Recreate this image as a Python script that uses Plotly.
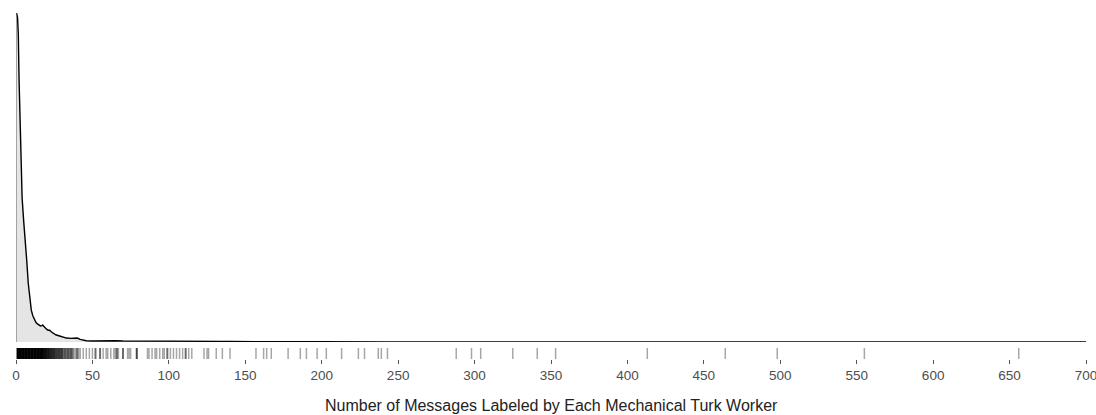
import plotly.graph_objects as go

# Smoothed density of messages labeled per worker (peak scaled to 1)
dens_x = [0, 0.5, 1, 1.5, 2, 2.5, 3, 3.5, 4, 5, 6, 7, 8, 9, 10, 11, 12, 13, 14, 15,
          16, 17, 17.5, 18, 19, 20, 21, 22, 23, 24, 26, 28, 30, 33, 36, 38, 40, 42, 44,
          46, 50, 55, 60, 65, 70, 75, 80, 85, 90, 95, 100, 105, 110, 115, 120, 125, 130,
          135, 140, 150, 160, 180, 200, 240, 300, 360, 450, 560, 660, 700]
dens_y = [1.0, 1.0, 0.99, 0.94, 0.80, 0.69, 0.60, 0.51, 0.44, 0.37, 0.32, 0.25, 0.18,
          0.13, 0.097, 0.08, 0.068, 0.06, 0.055, 0.051, 0.049, 0.05, 0.052, 0.049, 0.043,
          0.039, 0.036, 0.036, 0.031, 0.027, 0.022, 0.019, 0.016, 0.012, 0.011, 0.012,
          0.012, 0.008, 0.005, 0.004, 0.003, 0.004, 0.003, 0.004, 0.003, 0.003, 0.002,
          0.003, 0.002, 0.003, 0.004, 0.004, 0.003, 0.002, 0.003, 0.002, 0.002, 0.002,
          0.0015, 0.001, 0.0008, 0.0006, 0.0006, 0.0004, 0.0003, 0.0002, 0.0001, 0.0001,
          0.0001, 0.0]

# Rug: distinct per-worker message counts and how many workers share each
rug_values = [1, 2, 3, 4, 5, 6, 7, 8, 9, 10, 11, 12, 13, 14, 15, 16, 17, 18, 19, 20,
              21, 22, 23, 24, 25, 26, 27, 28, 29, 30, 31, 32, 33, 34, 35, 36, 37, 38,
              39, 40, 41, 42, 44, 46, 48, 50, 52, 55, 57, 59, 60, 62, 64, 65, 66, 67,
              70, 73, 74, 75, 79, 86, 87, 89, 91, 92, 94, 96, 97, 99, 101, 103, 105,
              107, 109, 111, 113, 115, 123, 125, 126, 131, 135, 140, 157, 162, 164, 167,
              178, 186, 190, 197, 203, 213, 224, 228, 237, 239, 243, 288, 298, 304, 325,
              341, 353, 413, 464, 498, 555, 656, 701]
rug_counts = [60, 50, 40, 35, 30, 26, 22, 20, 18, 16, 14, 13, 12, 11, 10, 9, 8, 7, 6, 6,
              5, 5, 4, 4, 4, 3, 3, 3, 3, 3, 2, 2, 2, 2, 2, 2, 2, 1,
              1, 2, 1, 1, 1, 1, 1, 1, 2, 2, 1, 1, 1, 1, 1, 1, 2, 1,
              2, 1, 1, 1, 3, 1, 1, 1, 1, 1, 1, 1, 1, 2, 1, 1, 1,
              1, 1, 2, 1, 1, 1, 1, 1, 1, 1, 1, 1, 1, 1, 1,
              1, 1, 1, 1, 1, 1, 1, 1, 1, 1, 1, 1, 1, 1, 1,
              1, 1, 1, 1, 1, 1, 1, 1]

tick_vals = [0, 50, 100, 150, 200, 250, 300, 350, 400, 450, 500, 550, 600, 650, 700]
x_title = "Number of Messages Labeled by Each Mechanical Turk Worker"

FONT = "Liberation Sans, Arial, Helvetica, sans-serif"
RUG_ALPHA = 0.35

fig = go.Figure()

# density area + outline
fig.add_trace(go.Scatter(
    x=dens_x, y=dens_y, mode="lines", fill="tozeroy",
    fillcolor="#e5e5e5", line=dict(color="black", width=1.4),
    hoverinfo="skip", showlegend=False, yaxis="y"))
# left edge of the area polygon
fig.add_trace(go.Scatter(
    x=[dens_x[0], dens_x[0]], y=[0, dens_y[0]], mode="lines",
    line=dict(color="#777777", width=1.2), hoverinfo="skip",
    showlegend=False, yaxis="y"))

# rug ticks, grouped by how many workers stack on a value
groups = {}
for v, c in zip(rug_values, rug_counts):
    groups.setdefault(c, []).append(v)
for c, vals in sorted(groups.items()):
    xs, ys = [], []
    for v in vals:
        xs += [v, v, None]
        ys += [0, 1, None]
    a = 1 - (1 - RUG_ALPHA) ** c
    fig.add_trace(go.Scatter(
        x=xs, y=ys, mode="lines",
        line=dict(color=f"rgba(0,0,0,{a:.3f})", width=1.5 if c == 1 else 2.0),
        hoverinfo="skip", showlegend=False, yaxis="y2"))

W, H = 1096, 415
top, bottom = 10, 56
plot_h = H - top - bottom
base_px = 342
dens_lo = (H - bottom - base_px) / plot_h
rug_hi = (H - bottom - 348) / plot_h
peak_px = 14
y_top = (base_px - top) / (base_px - peak_px)

fig.update_layout(
    width=W, height=H,
    margin=dict(l=16, r=10, t=top, b=bottom, autoexpand=False),
    plot_bgcolor="white", paper_bgcolor="white",
    xaxis=dict(range=[0, 700], tickvals=tick_vals, ticks="outside", ticklen=4,
               tickwidth=1, tickcolor="#555555", showgrid=False, zeroline=False,
               showline=False, anchor="y2", ticklabeloverflow="allow",
               automargin=False,
               tickfont=dict(family=FONT, size=13.5, color="#4d4d4d")),
    yaxis=dict(domain=[dens_lo, 1], range=[0, y_top], visible=False,
               showgrid=False, zeroline=False),
    yaxis2=dict(domain=[0, rug_hi], range=[0, 1], visible=False,
                showgrid=False, zeroline=False),
    annotations=[dict(text=x_title, xref="paper", yref="paper", x=0.5,
                      y=(H - bottom - 405) / plot_h, xanchor="center",
                      yanchor="middle", showarrow=False,
                      font=dict(family=FONT, size=16, color="#222222"))],
)

fig.write_html("out.html")
